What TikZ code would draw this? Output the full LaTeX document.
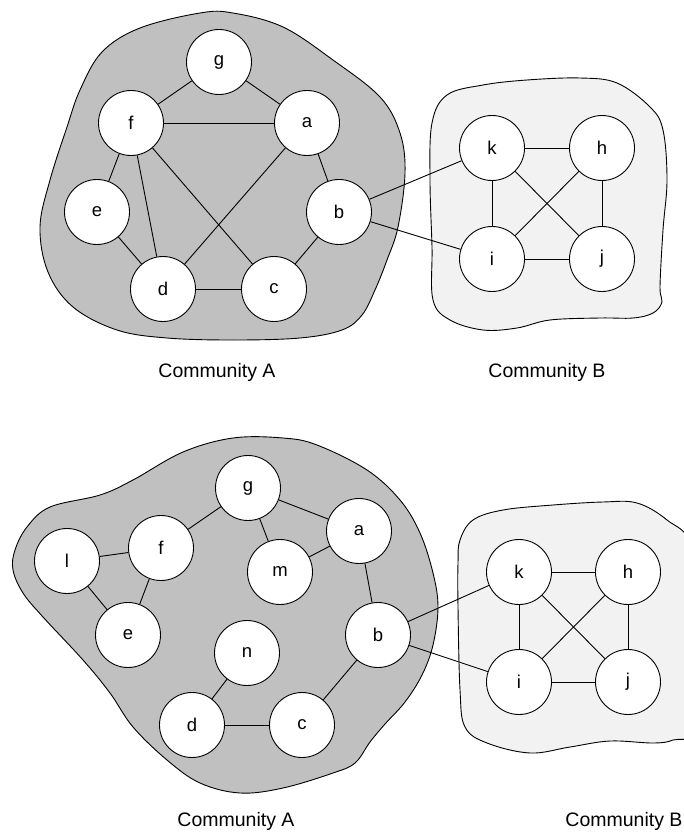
\documentclass[tikz,border=0pt]{standalone}
\usepackage{fontspec}
\setmainfont{Liberation Sans}
\begin{document}
\begin{tikzpicture}[x=1pt,y=-1pt,
  vertex/.style={circle,draw=black,fill=white,line width=0.9pt,minimum size=65pt,inner sep=0pt,font=\fontsize{18.5}{20}\selectfont},
  edge/.style={draw=black,line width=0.9pt},
  blobA/.style={draw=black,line width=0.9pt,fill=commA},
  blobB/.style={draw=black,line width=0.9pt,fill=commB},
  caption/.style={anchor=base,font=\fontsize{19.5}{22}\selectfont}]
\definecolor{commA}{RGB}{192,192,192}
\definecolor{commB}{RGB}{242,242,242}
\useasboundingbox (0,0) rectangle (684,832);
\clip (0,0) rectangle (684,832);

% ---------- upper graph ----------
\path[blobA] plot[smooth cycle,tension=0.6] coordinates {
  (200,13) (140,28) (102,52) (80,90) (67,127) (50,180) (40,227) (48,272)
  (73,307) (117,330) (167,338) (233,340) (300,338) (342,330) (362,315)
  (375,290) (387,260) (398,227) (405,173) (400,133) (380,97) (333,60)
  (283,27) (233,13)};
\path[blobB] plot[smooth cycle,tension=0.6] coordinates {
  (432,123) (447,95) (483,85) (527,80) (580,78) (617,83) (650,107)
  (663,130) (667,180) (663,230) (660,287) (662,302) (653,313) (633,318)
  (600,318) (550,320) (517,328) (483,330) (450,320) (433,300) (432,247)
  (430,180)};

\node[vertex] (g1) at (219,62) {g};
\node[vertex] (f1) at (131,123) {f};
\node[vertex] (a1) at (307,123) {a};
\node[vertex] (e1) at (97,212) {e};
\node[vertex] (b1) at (339,212) {b};
\node[vertex] (d1) at (163,289) {d};
\node[vertex] (c1) at (274,289) {c};
\node[vertex] (k1) at (492,148) {k};
\node[vertex] (h1) at (602,148) {h};
\node[vertex] (i1) at (492,259) {i};
\node[vertex] (j1) at (602,259) {j};

\foreach \u/\v in {g1/f1,g1/a1,f1/a1,f1/e1,f1/d1,f1/c1,a1/d1,a1/b1,e1/d1,
                   d1/c1,c1/b1,b1/k1,b1/i1,k1/h1,k1/i1,k1/j1,h1/i1,h1/j1,i1/j1}
  \draw[edge] (\u) -- (\v);

\node[caption] (capA1) at (217,377) {Community A};
\node[caption] (capB1) at (547,377) {Community B};

% ---------- lower graph ----------
\path[blobA] plot[smooth cycle,tension=0.6] coordinates {
  (233,438) (183,452) (133,480) (100,495) (50,507) (27,527) (15,550)
  (13,570) (23,593) (43,617) (83,660) (110,693) (133,727) (167,760)
  (200,783) (240,793) (283,788) (333,773) (355,763) (370,742) (385,724)
  (405,702) (422,675) (433,645) (438,607) (433,573) (420,533) (400,500)
  (367,470) (317,445) (283,438)};
\path[blobB] plot[smooth cycle,tension=0.6] coordinates {
  (460,540) (473,520) (503,510) (553,505) (603,502) (637,503) (667,520)
  (692,548) (698,640) (692,728) (673,740) (653,743) (610,741) (570,747)
  (530,753) (487,743) (465,727) (460,690) (458,607) (458,563)};

\node[vertex] (g2) at (248,488) {g};
\node[vertex] (a2) at (359,531) {a};
\node[vertex] (f2) at (161,548) {f};
\node[vertex] (l2) at (67,561) {l};
\node[vertex] (m2) at (280,572) {m};
\node[vertex] (e2) at (128,635) {e};
\node[vertex] (b2) at (378,635) {b};
\node[vertex] (n2) at (247,653) {n};
\node[vertex] (d2) at (192,725) {d};
\node[vertex] (c2) at (302,725) {c};
\node[vertex] (k2) at (519,572) {k};
\node[vertex] (h2) at (628,572) {h};
\node[vertex] (i2) at (519,682) {i};
\node[vertex] (j2) at (628,682) {j};

\foreach \u/\v in {g2/f2,g2/a2,g2/m2,m2/a2,l2/f2,l2/e2,f2/e2,a2/b2,b2/c2,
                   c2/d2,d2/n2,b2/k2,b2/i2,k2/h2,k2/i2,k2/j2,h2/i2,h2/j2,i2/j2}
  \draw[edge] (\u) -- (\v);

\node[caption] (capA2) at (236,826) {Community A};
\node[caption] (capB2) at (624,826) {Community B};
\end{tikzpicture}
\end{document}
